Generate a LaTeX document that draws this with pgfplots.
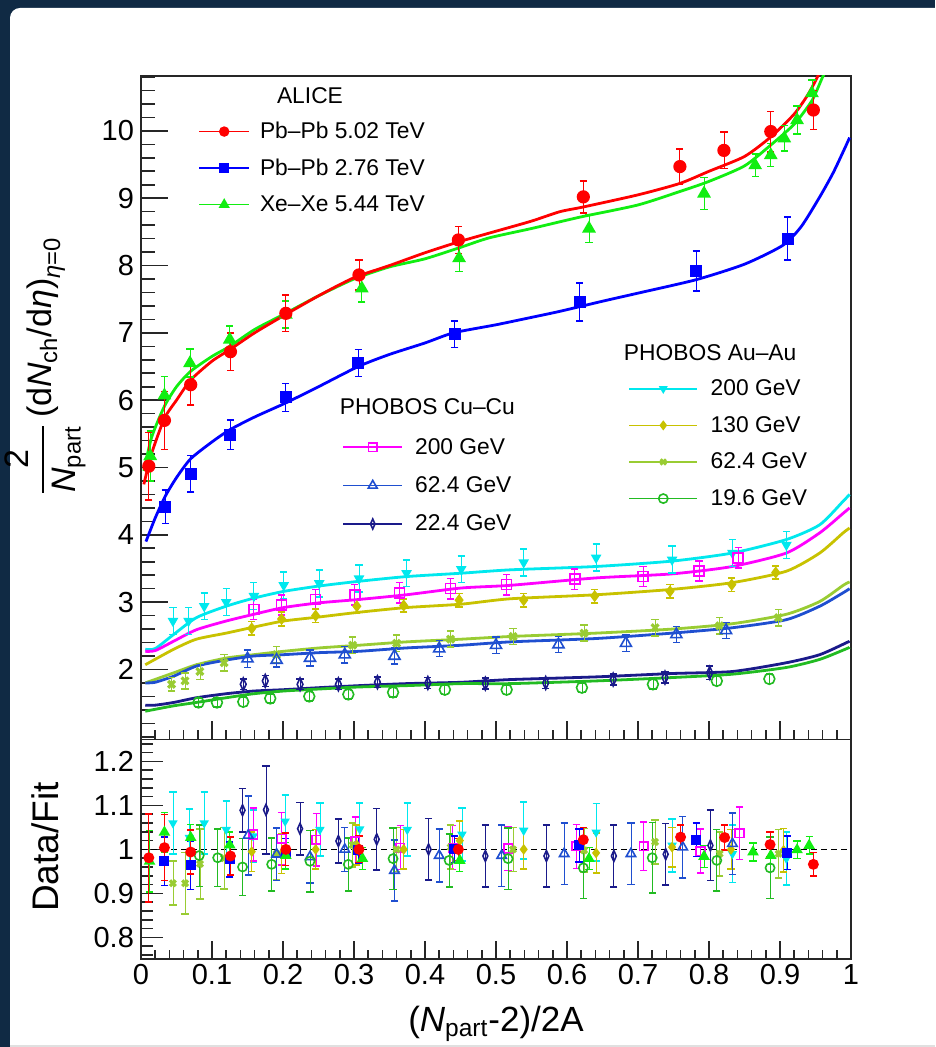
\documentclass[border=0pt]{standalone}
\usepackage{fontspec}
\setmainfont{Liberation Sans}
\usepackage{amsmath}
\usepackage{pgfplots}
\pgfplotsset{compat=1.18}
\definecolor{cBg}{HTML}{102A44}
\definecolor{cRed}{HTML}{FF0000}
\definecolor{cBlue}{HTML}{0000FF}
\definecolor{cGreen}{HTML}{11EE11}
\definecolor{cMag}{HTML}{FF00FF}
\definecolor{cBlT}{HTML}{1F4FD0}
\definecolor{cNavy}{HTML}{1A1A8A}
\definecolor{cCyan}{HTML}{00E8EE}
\definecolor{cOlive}{HTML}{C8C200}
\definecolor{cYG}{HTML}{99CC33}
\definecolor{cGr}{HTML}{22BB22}
\newcommand\tlfont{\fontsize{14.5}{17}\selectfont}
\newcommand\lgfont{\fontsize{11.4}{13}\selectfont}
\pgfplotsset{
  sR/.style={cRed, mark=*, mark size=#1*2.9pt}, sR/.default=1,
  sB/.style={cBlue, mark=square*, mark size=#1*2.6pt}, sB/.default=1,
  sG/.style={cGreen, mark=triangle*, mark size=#1*3.2pt}, sG/.default=1,
  sM/.style={cMag, mark=square, mark size=#1*2.5pt}, sM/.default=1,
  sT/.style={cBlT, mark=triangle, mark size=#1*3.2pt}, sT/.default=1,
  sN/.style={cNavy, mark=diamond, mark size=#1*3.2pt, mark options={xscale=0.6}}, sN/.default=1,
  sC/.style={cCyan, mark=triangle*, mark size=#1*2.3pt, mark options={rotate=180}}, sC/.default=1,
  sO/.style={cOlive, mark=diamond*, mark size=#1*2.4pt}, sO/.default=1,
  sY/.style={cYG, mark=x, mark size=#1*2.4pt, mark options={line width=1.6pt}}, sY/.default=1,
  sO2/.style={cGr, mark=o, mark size=#1*2.7pt}, sO2/.default=1,
  dat/.style={only marks, line width=0.8pt,
    error bars/y dir=both, error bars/y explicit,
    error bars/error mark options={rotate=90, mark size=1.8pt, line width=0.8pt}},
  fit/.style={no marks, smooth, tension=0.4, line width=1.4pt},
  frame/.style={scale only axis, width=355pt, xmin=0, xmax=1,
    axis line style={black!85, line width=0.9pt},
    tick style={black!85, line width=0.8pt},
    xtick={0,0.1,0.2,0.3,0.4,0.5,0.6,0.7,0.8,0.9,1},
    minor xtick={0,0.02,...,1},
    xtick pos=lower, ytick pos=left, tick align=inside,
    tick label style={font=\tlfont},
    every x tick/.append style={/pgfplots/major tick length=9pt, /pgfplots/minor tick length=4.6pt},
    /pgf/number format/assume math mode=true,
    clip=true},
}
\begin{document}
\begin{tikzpicture}
\useasboundingbox (0,0) rectangle (467.5pt,523.5pt);
\begin{scope}
\clip (0,0) rectangle (467.5pt,523.5pt);
\fill[cBg] (0,0) rectangle (467.5pt,523.5pt);
\fill[white,rounded corners=5pt] (5pt,-20pt) rectangle (490pt,519.5pt);
\fill[black!12] (5pt,0) rectangle (467.5pt,1pt);
\end{scope}

% ---------------- upper panel
\begin{axis}[frame, at={(70.5pt,153.75pt)}, anchor=south west,
  height=331.9pt, ymin=0.96, ymax=10.82,
  ytick={2,...,10}, minor ytick={1,1.2,...,10.8},
  xticklabels={},
  major tick length=13.5pt, minor tick length=7pt,
  ylabel={$\dfrac{\text{2}}{\textit{N}_{\text{part}}}\,\text{(d}\textit{N}_{\text{ch}}\text{/d}\textit{η}\text{)}_{\textit{η}\text{=0}}$},
  ylabel style={font=\fontsize{17}{20}\selectfont, at={(axis description cs:-0.135,0.5625)}, anchor=center},
  legend style={at={(axis description cs:0.0803,0.933)}, anchor=north west,
    draw=none, fill=none, inner sep=0pt, font=\lgfont, row sep=7.25pt, column sep=5pt,
    nodes={inner sep=0pt, text height=9pt, text depth=2pt}},
  legend cell align=left,
  legend image code/.code={\draw[mark repeat=2,mark phase=2] plot coordinates {(0pt,0pt) (12.5pt,0pt) (25pt,0pt)};},
]
\addlegendimage{cRed, line width=0.8pt, mark=*, mark size=2.2pt}
\addlegendentry{Pb\textendash Pb 5.02 TeV}
\addlegendimage{cBlue, line width=0.8pt, mark=square*, mark size=2.1pt}
\addlegendentry{Pb\textendash Pb 2.76 TeV}
\addlegendimage{cGreen, line width=0.8pt, mark=triangle*, mark size=2.4pt}
\addlegendentry{Xe\textendash Xe 5.44 TeV}

% PHOBOS fits
\addplot[fit, cCyan, forget plot] coordinates {(0.006,2.30) (0.02,2.31) (0.046,2.52) (0.078,2.77) (0.12,2.94) (0.159,3.06) (0.201,3.16) (0.251,3.24) (0.307,3.31) (0.374,3.38) (0.451,3.43) (0.52,3.48) (0.641,3.53) (0.748,3.61) (0.833,3.73) (0.909,3.93) (0.956,4.15) (0.989,4.50) (0.998,4.60)};
\addplot[fit, cMag, forget plot] coordinates {(0.006,2.27) (0.02,2.28) (0.046,2.42) (0.078,2.59) (0.12,2.72) (0.159,2.82) (0.201,2.92) (0.251,2.99) (0.307,3.04) (0.374,3.11) (0.451,3.21) (0.52,3.25) (0.641,3.36) (0.748,3.42) (0.833,3.53) (0.909,3.73) (0.956,4.03) (0.989,4.32) (0.998,4.40)};
\addplot[fit, cOlive, forget plot] coordinates {(0.006,2.07) (0.046,2.30) (0.078,2.45) (0.12,2.54) (0.159,2.63) (0.201,2.72) (0.251,2.78) (0.307,2.85) (0.374,2.92) (0.451,2.97) (0.52,3.05) (0.641,3.11) (0.748,3.19) (0.833,3.29) (0.909,3.46) (0.956,3.73) (0.989,4.03) (0.998,4.10)};
\addplot[fit, cYG, forget plot] coordinates {(0.006,1.80) (0.046,1.95) (0.078,2.07) (0.12,2.17) (0.159,2.22) (0.201,2.27) (0.251,2.32) (0.307,2.36) (0.374,2.41) (0.451,2.45) (0.52,2.49) (0.641,2.54) (0.748,2.60) (0.833,2.68) (0.909,2.82) (0.956,3.01) (0.989,3.25) (0.998,3.30)};
\addplot[fit, cBlT, forget plot] coordinates {(0.006,1.80) (0.02,1.81) (0.046,1.90) (0.078,2.05) (0.12,2.14) (0.159,2.20) (0.201,2.22) (0.251,2.25) (0.307,2.27) (0.374,2.32) (0.451,2.36) (0.52,2.41) (0.641,2.46) (0.748,2.54) (0.833,2.62) (0.909,2.74) (0.956,2.94) (0.989,3.14) (0.998,3.20)};
\addplot[fit, cNavy, forget plot] coordinates {(0.006,1.47) (0.02,1.47) (0.046,1.51) (0.078,1.58) (0.12,1.64) (0.159,1.68) (0.201,1.70) (0.251,1.73) (0.307,1.76) (0.374,1.79) (0.451,1.81) (0.52,1.85) (0.641,1.89) (0.748,1.94) (0.833,1.97) (0.909,2.10) (0.956,2.22) (0.994,2.40) (0.998,2.42)};
\addplot[fit, cGr, forget plot] coordinates {(0.006,1.38) (0.046,1.46) (0.078,1.51) (0.12,1.58) (0.159,1.64) (0.201,1.68) (0.251,1.71) (0.307,1.74) (0.374,1.76) (0.451,1.79) (0.52,1.79) (0.641,1.83) (0.748,1.88) (0.833,1.93) (0.909,2.03) (0.956,2.15) (0.994,2.31) (0.998,2.33)};

% ALICE fits
\addplot[fit, cBlue, forget plot] coordinates {(0.007,3.90) (0.02,4.25) (0.034,4.57) (0.05,4.85) (0.07,5.13) (0.1,5.38) (0.125,5.56) (0.16,5.75) (0.204,5.96) (0.25,6.20) (0.306,6.50) (0.35,6.68) (0.4,6.85) (0.44,7.00) (0.5,7.12) (0.55,7.23) (0.59,7.32) (0.65,7.47) (0.7,7.59) (0.782,7.79) (0.85,8.02) (0.904,8.30) (0.93,8.58) (0.956,9.02) (0.975,9.38) (0.992,9.76) (0.998,9.90)};
\addplot[fit, cGreen, forget plot] coordinates {(0.004,4.95) (0.015,5.45) (0.033,5.91) (0.05,6.20) (0.07,6.43) (0.1,6.65) (0.125,6.80) (0.16,7.05) (0.2,7.27) (0.25,7.55) (0.3,7.80) (0.35,7.98) (0.4,8.10) (0.45,8.27) (0.49,8.41) (0.55,8.55) (0.59,8.65) (0.623,8.73) (0.7,8.90) (0.759,9.10) (0.8,9.25) (0.85,9.48) (0.887,9.79) (0.92,10.10) (0.945,10.45) (0.96,10.80) (0.97,11.00)};
\addplot[fit, cRed, forget plot] coordinates {(0.004,4.75) (0.015,5.21) (0.033,5.73) (0.05,6.00) (0.07,6.30) (0.1,6.58) (0.125,6.75) (0.16,7.00) (0.2,7.25) (0.25,7.55) (0.3,7.82) (0.35,8.00) (0.4,8.19) (0.45,8.36) (0.5,8.51) (0.55,8.66) (0.59,8.80) (0.623,8.87) (0.7,9.05) (0.759,9.22) (0.8,9.40) (0.85,9.62) (0.887,9.91) (0.92,10.25) (0.94,10.55) (0.955,10.85) (0.96,11.00)};

% PHOBOS data
\addplot[dat, sC, forget plot] coordinates {(0.045,2.72) +- (0,0.2) (0.067,2.72) +- (0,0.2) (0.089,2.94) +- (0,0.2) (0.12,3.00) +- (0,0.2) (0.159,3.09) +- (0,0.2) (0.201,3.25) +- (0,0.2) (0.251,3.28) +- (0,0.2) (0.307,3.35) +- (0,0.2) (0.374,3.43) +- (0,0.2) (0.451,3.49) +- (0,0.2) (0.539,3.59) +- (0,0.2) (0.641,3.66) +- (0,0.2) (0.748,3.63) +- (0,0.2) (0.833,3.73) +- (0,0.2) (0.909,3.85) +- (0,0.2)};
\addplot[dat, sM, forget plot] coordinates {(0.159,2.89) +- (0,0.15) (0.198,2.96) +- (0,0.15) (0.246,3.04) +- (0,0.15) (0.301,3.11) +- (0,0.15) (0.364,3.14) +- (0,0.15) (0.436,3.20) +- (0,0.15) (0.515,3.26) +- (0,0.15) (0.611,3.34) +- (0,0.15) (0.707,3.38) +- (0,0.15) (0.786,3.46) +- (0,0.15) (0.841,3.66) +- (0,0.15)};
\addplot[dat, sO, forget plot] coordinates {(0.156,2.61) +- (0,0.1) (0.198,2.75) +- (0,0.1) (0.246,2.80) +- (0,0.1) (0.304,2.94) +- (0,0.1) (0.370,2.95) +- (0,0.1) (0.448,3.03) +- (0,0.1) (0.539,3.03) +- (0,0.1) (0.639,3.09) +- (0,0.1) (0.745,3.16) +- (0,0.1) (0.832,3.26) +- (0,0.1) (0.894,3.44) +- (0,0.1)};
\addplot[dat, sY, forget plot] coordinates {(0.043,1.78) +- (0,0.1) (0.062,1.83) +- (0,0.12) (0.083,1.97) +- (0,0.12) (0.117,2.10) +- (0,0.12) (0.191,2.22) +- (0,0.12) (0.298,2.36) +- (0,0.12) (0.36,2.39) +- (0,0.12) (0.436,2.45) +- (0,0.12) (0.524,2.49) +- (0,0.12) (0.624,2.54) +- (0,0.12) (0.724,2.62) +- (0,0.12) (0.815,2.65) +- (0,0.12) (0.898,2.77) +- (0,0.12)};
\addplot[dat, sT, forget plot] coordinates {(0.150,2.16) +- (0,0.13) (0.191,2.14) +- (0,0.1) (0.238,2.17) +- (0,0.12) (0.287,2.22) +- (0,0.12) (0.357,2.20) +- (0,0.12) (0.42,2.31) +- (0,0.12) (0.50,2.36) +- (0,0.12) (0.588,2.37) +- (0,0.12) (0.683,2.39) +- (0,0.12) (0.754,2.52) +- (0,0.12) (0.824,2.58) +- (0,0.12)};
\addplot[dat, sN, forget plot] coordinates {(0.144,1.78) +- (0,0.08) (0.175,1.83) +- (0,0.08) (0.224,1.78) +- (0,0.08) (0.278,1.78) +- (0,0.08) (0.333,1.81) +- (0,0.08) (0.404,1.80) +- (0,0.08) (0.485,1.79) +- (0,0.08) (0.570,1.80) +- (0,0.08) (0.665,1.85) +- (0,0.08) (0.738,1.88) +- (0,0.08) (0.801,1.95) +- (0,0.1)};
\addplot[dat, sO2, forget plot] coordinates {(0.081,1.51) +- (0,0.07) (0.107,1.51) +- (0,0.07) (0.144,1.52) +- (0,0.07) (0.182,1.57) +- (0,0.07) (0.237,1.60) +- (0,0.07) (0.292,1.63) +- (0,0.07) (0.355,1.66) +- (0,0.07) (0.428,1.70) +- (0,0.07) (0.515,1.70) +- (0,0.07) (0.621,1.73) +- (0,0.07) (0.721,1.78) +- (0,0.07) (0.811,1.83) +- (0,0.07) (0.885,1.86) +- (0,0.07)};

% ALICE data
\addplot[dat, sB, forget plot] coordinates {(0.034,4.42) +- (0,0.25) (0.070,4.91) +- (0,0.27) (0.126,5.49) +- (0,0.22) (0.204,6.04) +- (0,0.21) (0.306,6.55) +- (0,0.2) (0.442,6.98) +- (0,0.2) (0.618,7.46) +- (0,0.28) (0.782,7.92) +- (0,0.3) (0.911,8.40) +- (0,0.32)};
\addplot[dat, sG, forget plot] coordinates {(0.013,5.17) +- (0,0.37) (0.033,6.07) +- (0,0.28) (0.069,6.55) +- (0,0.21) (0.125,6.90) +- (0,0.2) (0.204,7.27) +- (0,0.2) (0.311,7.66) +- (0,0.2) (0.448,8.11) +- (0,0.2) (0.631,8.55) +- (0,0.21) (0.793,9.07) +- (0,0.24) (0.865,9.49) +- (0,0.17) (0.887,9.64) +- (0,0.17) (0.906,9.89) +- (0,0.19) (0.924,10.16) +- (0,0.21) (0.945,10.56) +- (0,0.2)};
\addplot[dat, sR, forget plot] coordinates {(0.011,5.02) +- (0,0.5) (0.033,5.70) +- (0,0.43) (0.070,6.23) +- (0,0.3) (0.126,6.72) +- (0,0.28) (0.204,7.29) +- (0,0.27) (0.307,7.86) +- (0,0.22) (0.447,8.38) +- (0,0.2) (0.623,9.02) +- (0,0.24) (0.759,9.47) +- (0,0.26) (0.821,9.71) +- (0,0.27) (0.887,9.99) +- (0,0.3) (0.947,10.31) +- (0,0.29)};

\node[font=\lgfont, anchor=center] at (axis cs:0.238,10.53) {ALICE};
\node[font=\lgfont, anchor=west, inner sep=0pt] at (axis cs:0.2797,5.91) {PHOBOS Cu\textendash Cu};
\node[font=\lgfont, anchor=west, inner sep=0pt] at (axis cs:0.6797,6.70) {PHOBOS Au\textendash Au};
\end{axis}

% legend: PHOBOS Cu-Cu
\begin{axis}[scale only axis, width=355pt, height=331.9pt, at={(70.5pt,153.75pt)}, anchor=south west,
  hide axis, xmin=0, xmax=1, ymin=0.96, ymax=10.82,
  legend style={at={(axis description cs:0.283,0.4575)}, anchor=north west,
    draw=none, fill=none, inner sep=0pt, font=\lgfont, row sep=8.2pt, column sep=6pt,
    nodes={inner sep=0pt, text height=9pt, text depth=2pt}},
  legend cell align=left,
  legend image code/.code={\draw[mark repeat=2,mark phase=2] plot coordinates {(0pt,0pt) (14.8pt,0pt) (29.6pt,0pt)};},
]
\addlegendimage{cMag, line width=0.8pt, mark=square, mark size=2.2pt}
\addlegendentry{200 GeV}
\addlegendimage{cBlT, line width=0.8pt, mark=triangle, mark size=2.6pt}
\addlegendentry{62.4 GeV}
\addlegendimage{cNavy, line width=0.8pt, mark=diamond, mark size=2.5pt, mark options={xscale=0.6}}
\addlegendentry{22.4 GeV}
\end{axis}

% legend: PHOBOS Au-Au
\begin{axis}[scale only axis, width=355pt, height=331.9pt, at={(70.5pt,153.75pt)}, anchor=south west,
  hide axis, xmin=0, xmax=1, ymin=0.96, ymax=10.82,
  legend style={at={(axis description cs:0.686,0.5455)}, anchor=north west,
    draw=none, fill=none, inner sep=0pt, font=\lgfont, row sep=7.3pt, column sep=6.3pt,
    nodes={inner sep=0pt, text height=9pt, text depth=2pt}},
  legend cell align=left,
  legend image code/.code={\draw[mark repeat=2,mark phase=2] plot coordinates {(0pt,0pt) (17pt,0pt) (34pt,0pt)};},
]
\addlegendimage{cCyan, line width=0.8pt, mark=triangle*, mark size=1.8pt, mark options={rotate=180}}
\addlegendentry{200 GeV}
\addlegendimage{cOlive, line width=0.8pt, mark=diamond*, mark size=1.9pt}
\addlegendentry{130 GeV}
\addlegendimage{cYG, line width=0.8pt, mark=x, mark size=1.9pt, mark options={line width=1.4pt}}
\addlegendentry{62.4 GeV}
\addlegendimage{cGr, line width=0.8pt, mark=o, mark size=2.3pt}
\addlegendentry{19.6 GeV}
\end{axis}

% ---------------- lower panel
\begin{axis}[frame, at={(70.5pt,43.85pt)}, anchor=south west,
  height=109.9pt, ymin=0.75, ymax=1.25,
  ytick={0.8,0.9,1,1.1,1.2}, minor ytick={0.76,0.78,...,1.24},
  major tick length=11pt, minor tick length=6pt,
  xticklabel style={yshift=1pt},
  xlabel={$\text{(}\textit{N}_{\text{part}}\text{-2)/2A}$},
  xlabel style={font=\fontsize{17.5}{20}\selectfont, at={(axis description cs:0.5,-0.329)}, anchor=base},
  ylabel={Data/Fit},
  ylabel style={font=\fontsize{18.5}{22}\selectfont, at={(axis description cs:-0.135,0.511)}, anchor=center},
]
\addplot[black, dashed, line width=0.7pt, dash pattern=on 3pt off 2pt] coordinates {(0,1) (1,1)};

\addplot[dat, sC=0.85] coordinates {(0.045,1.06) +- (0,0.07) (0.068,1.027) +- (0,0.065) (0.089,1.06) +- (0,0.07) (0.12,1.045) +- (0,0.065) (0.158,1.03) +- (0,0.06) (0.203,1.064) +- (0,0.06) (0.252,1.045) +- (0,0.06) (0.308,1.046) +- (0,0.06) (0.375,1.045) +- (0,0.06) (0.452,1.034) +- (0,0.06) (0.539,1.043) +- (0,0.065) (0.641,1.039) +- (0,0.065) (0.748,1.009) +- (0,0.06) (0.833,0.99) +- (0,0.065) (0.909,0.979) +- (0,0.06)};
\addplot[dat, sM=0.85] coordinates {(0.158,1.034) +- (0,0.06) (0.198,1.024) +- (0,0.06) (0.247,1.022) +- (0,0.06) (0.302,1.019) +- (0,0.055) (0.365,1.004) +- (0,0.05) (0.439,1.004) +- (0,0.05) (0.517,1.002) +- (0,0.05) (0.613,1.007) +- (0,0.05) (0.708,1.007) +- (0,0.055) (0.788,0.996) +- (0,0.05) (0.843,1.037) +- (0,0.06)};
\addplot[dat, sO=0.85] coordinates {(0.156,0.995) +- (0,0.045) (0.198,0.99) +- (0,0.045) (0.246,1.0) +- (0,0.045) (0.304,1.01) +- (0,0.045) (0.370,1.0) +- (0,0.045) (0.449,1.02) +- (0,0.045) (0.539,1.0) +- (0,0.045) (0.641,0.992) +- (0,0.045) (0.748,1.005) +- (0,0.045) (0.831,1.0) +- (0,0.045) (0.905,0.998) +- (0,0.05)};
\addplot[dat, sY=0.85] coordinates {(0.045,0.923) +- (0,0.05) (0.062,0.923) +- (0,0.07) (0.083,0.967) +- (0,0.08) (0.117,0.98) +- (0,0.07) (0.191,0.99) +- (0,0.06) (0.298,1.01) +- (0,0.05) (0.36,1.0) +- (0,0.05) (0.436,1.005) +- (0,0.05) (0.524,1.0) +- (0,0.05) (0.624,0.998) +- (0,0.05) (0.724,1.017) +- (0,0.05) (0.815,0.99) +- (0,0.05) (0.898,0.99) +- (0,0.055)};
\addplot[dat, sT=0.85] coordinates {(0.151,1.032) +- (0,0.09) (0.191,0.989) +- (0,0.06) (0.238,0.983) +- (0,0.06) (0.287,1.0) +- (0,0.05) (0.357,0.952) +- (0,0.07) (0.42,0.986) +- (0,0.06) (0.508,0.986) +- (0,0.07) (0.596,0.99) +- (0,0.07) (0.69,0.99) +- (0,0.07) (0.763,1.005) +- (0,0.07) (0.833,1.013) +- (0,0.07)};
\addplot[dat, sN=0.85] coordinates {(0.143,1.089) +- (0,0.05) (0.176,1.09) +- (0,0.1) (0.224,1.047) +- (0,0.06) (0.278,1.019) +- (0,0.05) (0.332,1.023) +- (0,0.07) (0.405,1.0) +- (0,0.07) (0.485,0.985) +- (0,0.07) (0.571,0.985) +- (0,0.07) (0.666,0.985) +- (0,0.07) (0.739,0.989) +- (0,0.07) (0.802,1.009) +- (0,0.08)};
\addplot[dat, sO2=0.85] coordinates {(0.082,0.986) +- (0,0.07) (0.108,0.981) +- (0,0.065) (0.143,0.96) +- (0,0.065) (0.184,0.966) +- (0,0.06) (0.238,0.973) +- (0,0.07) (0.292,0.966) +- (0,0.06) (0.355,0.979) +- (0,0.07) (0.434,0.975) +- (0,0.06) (0.517,0.979) +- (0,0.07) (0.623,0.958) +- (0,0.07) (0.72,0.981) +- (0,0.08) (0.811,0.975) +- (0,0.07) (0.886,0.958) +- (0,0.07)};
\addplot[dat, sB=0.8] coordinates {(0.033,0.973) +- (0,0.055) (0.070,0.964) +- (0,0.055) (0.125,0.977) +- (0,0.04) (0.204,0.99) +- (0,0.035) (0.306,0.999) +- (0,0.03) (0.441,1.0) +- (0,0.03) (0.617,1.009) +- (0,0.038) (0.782,1.022) +- (0,0.038) (0.910,0.992) +- (0,0.038)};
\addplot[dat, sG=0.8] coordinates {(0.012,0.973) +- (0,0.07) (0.033,1.039) +- (0,0.045) (0.070,1.027) +- (0,0.03) (0.125,1.01) +- (0,0.03) (0.204,0.986) +- (0,0.03) (0.312,0.979) +- (0,0.025) (0.449,0.975) +- (0,0.025) (0.631,0.979) +- (0,0.025) (0.793,0.984) +- (0,0.025) (0.862,0.994) +- (0,0.02) (0.887,0.986) +- (0,0.02) (0.924,0.999) +- (0,0.02) (0.941,1.009) +- (0,0.02)};
\addplot[dat, sR=0.8] coordinates {(0.011,0.981) +- (0,0.10) (0.033,1.004) +- (0,0.075) (0.070,0.994) +- (0,0.05) (0.126,0.985) +- (0,0.043) (0.204,1.0) +- (0,0.037) (0.307,1.0) +- (0,0.03) (0.447,1.0) +- (0,0.025) (0.623,1.022) +- (0,0.028) (0.760,1.028) +- (0,0.028) (0.822,1.027) +- (0,0.028) (0.886,1.011) +- (0,0.028) (0.947,0.966) +- (0,0.027)};
\end{axis}
\end{tikzpicture}
\end{document}
